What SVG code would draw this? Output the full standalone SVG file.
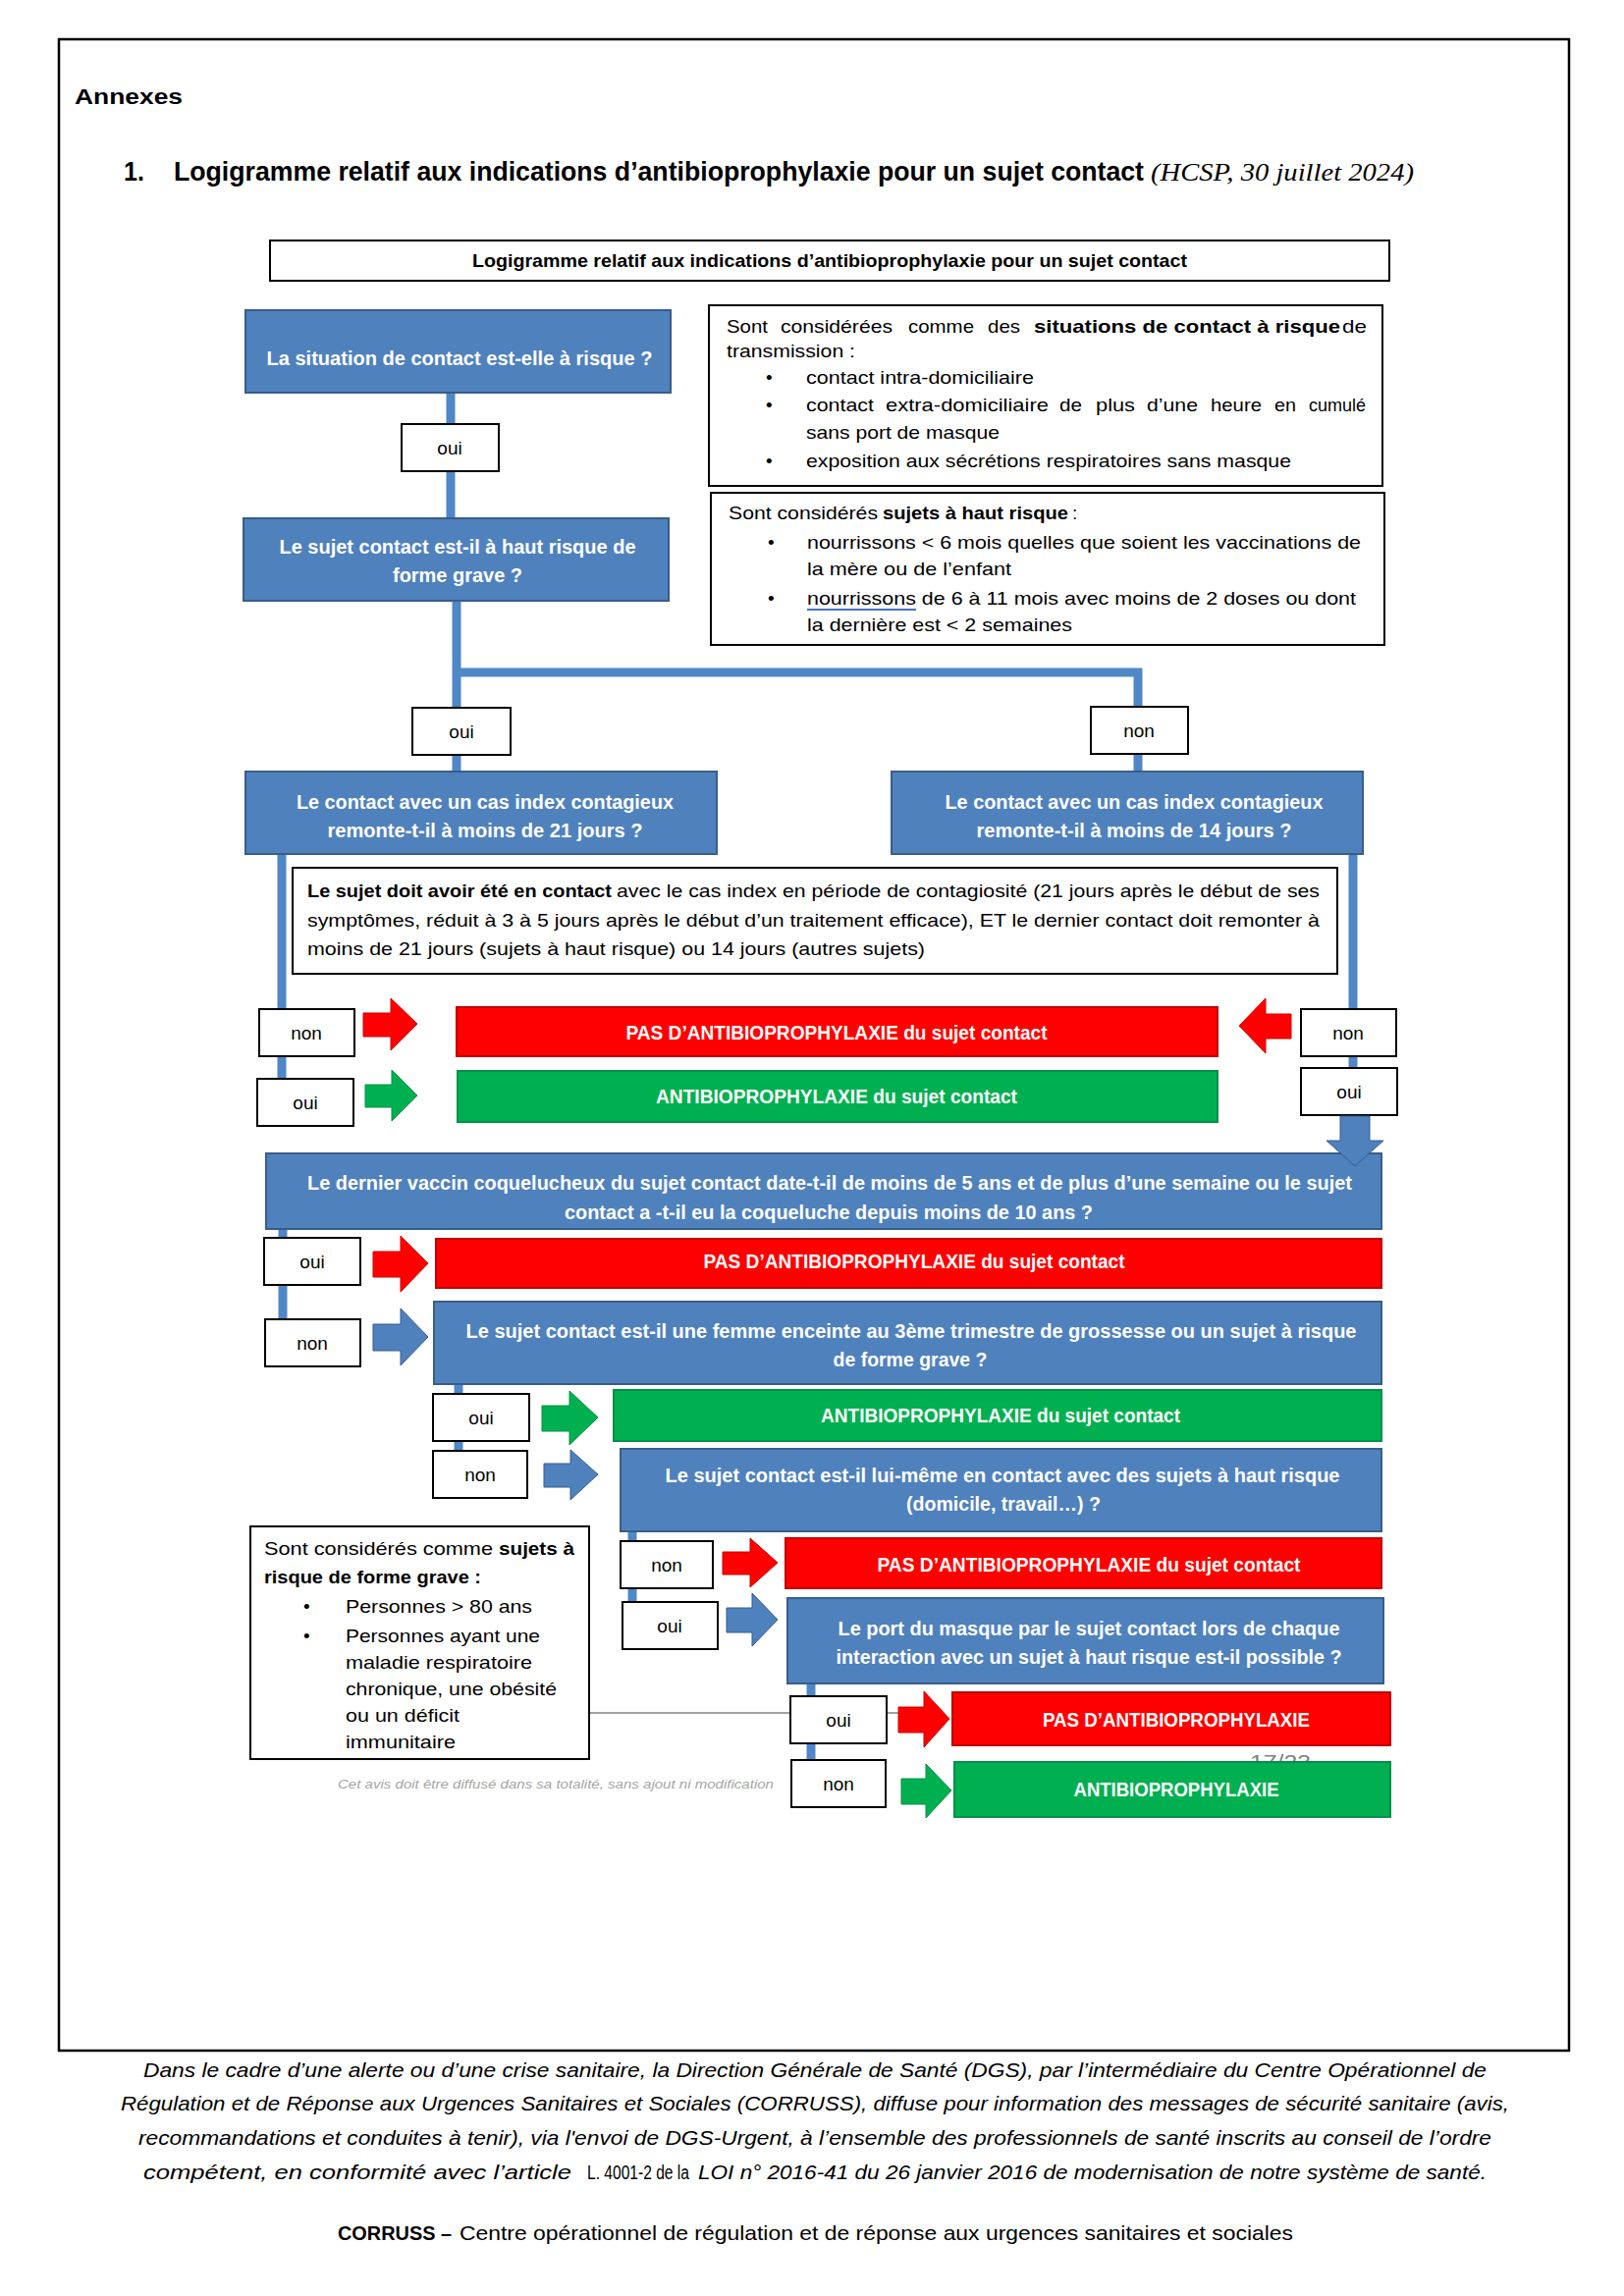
<svg xmlns="http://www.w3.org/2000/svg" width="1654" height="2339" viewBox="0 0 1654 2339">
<style>
text{font-family:"Liberation Sans",Arial,sans-serif;fill:#000}
.b{font-weight:bold}
.bq{fill:#4F81BD;stroke:#385D8A;stroke-width:2}
.bt{fill:#fff;font-weight:bold;font-size:20px;text-anchor:middle}
.lb{fill:#fff;stroke:#000;stroke-width:2}
.lt{font-size:19px;text-anchor:middle}
.info{fill:#fff;stroke:#000;stroke-width:2}
.it{font-size:19px}
.red{fill:#FF0000;stroke:#C00000;stroke-width:2}
.grn{fill:#00B050;stroke:#00904A;stroke-width:2}
.ar{fill:#FF0000;stroke:#D00000;stroke-width:1}
.ag{fill:#00B050;stroke:#009044;stroke-width:1}
.ab{fill:#4F81BD;stroke:#385D8A;stroke-width:1}
.con{stroke:#4F87C7;stroke-width:9;fill:none}
.ft{font-size:21px;font-style:italic}
</style>

<rect x="60" y="40" width="1538" height="2049" fill="none" stroke="#000" stroke-width="2.5"/>

<g id="header">
<text class="b" x="76" y="106" font-size="22" textLength="110" lengthAdjust="spacingAndGlyphs">Annexes</text>
<text class="b" x="126" y="184" font-size="27" textLength="21" lengthAdjust="spacingAndGlyphs">1.</text>
<text class="b" x="177" y="184" font-size="27" textLength="988" lengthAdjust="spacingAndGlyphs">Logigramme relatif aux indications d’antibioprophylaxie pour un sujet contact</text>
<text x="1172" y="184" font-size="26" font-style="italic" style="font-family:'Liberation Serif',serif" textLength="268" lengthAdjust="spacingAndGlyphs">(HCSP, 30 juillet 2024)</text>
</g>

<g id="title-box">
<rect x="275" y="245" width="1140" height="41" fill="#fff" stroke="#000" stroke-width="2"/>
<text class="b" x="845" y="272" font-size="19" text-anchor="middle" textLength="728" lengthAdjust="spacingAndGlyphs">Logigramme relatif aux indications d’antibioprophylaxie pour un sujet contact</text>
</g>

<g id="connectors">
<line class="con" x1="459" y1="401" x2="459" y2="528"/>
<line class="con" x1="465" y1="612" x2="465" y2="786"/>
<line class="con" x1="461" y1="685" x2="1163" y2="685"/>
<line class="con" x1="1159" y1="681" x2="1159" y2="786"/>
<line class="con" x1="287" y1="870" x2="287" y2="1099"/>
<line class="con" x1="1378" y1="870" x2="1378" y2="1088"/>
<line class="con" x1="288" y1="1253" x2="288" y2="1344"/>
<line class="con" x1="467" y1="1410" x2="467" y2="1478"/>
<line class="con" x1="644" y1="1560" x2="644" y2="1632"/>
<line class="con" x1="826" y1="1715" x2="826" y2="1793"/>
<line x1="600" y1="1745" x2="915" y2="1745" stroke="#808080" stroke-width="1.5"/>
</g>

<g id="q1">
<rect class="bq" x="250" y="316" width="433" height="84"/>
<text class="bt" x="468" y="372" textLength="393" lengthAdjust="spacingAndGlyphs">La situation de contact est-elle à risque ?</text>
</g>

<g id="infoA">
<rect class="info" x="722" y="311" width="686" height="184"/>
<text class="it" x="740" y="339" textLength="42" lengthAdjust="spacingAndGlyphs">Sont</text>
<text class="it" x="795" y="339" textLength="114" lengthAdjust="spacingAndGlyphs">considérées</text>
<text class="it" x="925" y="339" textLength="67" lengthAdjust="spacingAndGlyphs">comme</text>
<text class="it" x="1006" y="339" textLength="33" lengthAdjust="spacingAndGlyphs">des</text>
<text class="it b" x="1053" y="339" textLength="312" lengthAdjust="spacingAndGlyphs">situations de contact à risque</text>
<text class="it" x="1367" y="339" textLength="25" lengthAdjust="spacingAndGlyphs">de</text>
<text class="it" x="740" y="364" textLength="131" lengthAdjust="spacingAndGlyphs">transmission :</text>
<text class="it" x="780" y="391">•</text>
<text class="it" x="821" y="391" textLength="232" lengthAdjust="spacingAndGlyphs">contact intra-domiciliaire</text>
<text class="it" x="780" y="419">•</text>
<text class="it" x="821" y="419" textLength="69" lengthAdjust="spacingAndGlyphs">contact</text>
<text class="it" x="902" y="419" textLength="166" lengthAdjust="spacingAndGlyphs">extra-domiciliaire</text>
<text class="it" x="1079" y="419" textLength="23" lengthAdjust="spacingAndGlyphs">de</text>
<text class="it" x="1116" y="419" textLength="40" lengthAdjust="spacingAndGlyphs">plus</text>
<text class="it" x="1168" y="419" textLength="52" lengthAdjust="spacingAndGlyphs">d’une</text>
<text class="it" x="1233" y="419" textLength="52" lengthAdjust="spacingAndGlyphs">heure</text>
<text class="it" x="1298" y="419" textLength="22" lengthAdjust="spacingAndGlyphs">en</text>
<text class="it" x="1333" y="419" textLength="58" lengthAdjust="spacingAndGlyphs">cumulé</text>
<text class="it" x="821" y="447" textLength="197" lengthAdjust="spacingAndGlyphs">sans port de masque</text>
<text class="it" x="780" y="476">•</text>
<text class="it" x="821" y="476" textLength="494" lengthAdjust="spacingAndGlyphs">exposition aux sécrétions respiratoires sans masque</text>
</g>

<g id="oui1">
<rect class="lb" x="409" y="432" width="99" height="48"/>
<text class="lt" x="458" y="463">oui</text>
</g>

<g id="q2">
<rect class="bq" x="248" y="528" width="433" height="84"/>
<text class="bt" x="466" y="564" textLength="363" lengthAdjust="spacingAndGlyphs">Le sujet contact est-il à haut risque de</text>
<text class="bt" x="466" y="593" textLength="132" lengthAdjust="spacingAndGlyphs">forme grave ?</text>
</g>

<g id="infoB">
<rect class="info" x="724" y="502" width="686" height="155"/>
<text class="it" x="742" y="529" textLength="152" lengthAdjust="spacingAndGlyphs">Sont considérés</text>
<text class="it b" x="899" y="529" textLength="189" lengthAdjust="spacingAndGlyphs">sujets à haut risque</text>
<text class="it" x="1092" y="529">:</text>
<text class="it" x="782" y="559">•</text>
<text class="it" x="822" y="559" textLength="564" lengthAdjust="spacingAndGlyphs">nourrissons &lt; 6 mois quelles que soient les vaccinations de</text>
<text class="it" x="822" y="586" textLength="208" lengthAdjust="spacingAndGlyphs">la mère ou de l’enfant</text>
<text class="it" x="782" y="616">•</text>
<text class="it" x="822" y="616" textLength="559" lengthAdjust="spacingAndGlyphs">nourrissons de 6 à 11 mois avec moins de 2 doses ou dont</text>
<line x1="822" y1="621" x2="933" y2="621" stroke="#4472C4" stroke-width="2"/>
<text class="it" x="822" y="643" textLength="270" lengthAdjust="spacingAndGlyphs">la dernière est &lt; 2 semaines</text>
</g>

<g id="oui2">
<rect class="lb" x="420" y="721" width="100" height="48"/>
<text class="lt" x="470" y="752">oui</text>
</g>
<g id="non2">
<rect class="lb" x="1111" y="720" width="99" height="48"/>
<text class="lt" x="1160" y="751">non</text>
</g>

<g id="q3">
<rect class="bq" x="250" y="786" width="480" height="84"/>
<text class="bt" x="494" y="824" textLength="384" lengthAdjust="spacingAndGlyphs">Le contact avec un cas index contagieux</text>
<text class="bt" x="494" y="853" textLength="321" lengthAdjust="spacingAndGlyphs">remonte-t-il à moins de 21 jours ?</text>
</g>
<g id="q4">
<rect class="bq" x="908" y="786" width="480" height="84"/>
<text class="bt" x="1155" y="824" textLength="385" lengthAdjust="spacingAndGlyphs">Le contact avec un cas index contagieux</text>
<text class="bt" x="1155" y="853" textLength="321" lengthAdjust="spacingAndGlyphs">remonte-t-il à moins de 14 jours ?</text>
</g>

<g id="infoC">
<rect class="info" x="298" y="884" width="1064" height="108"/>
<text class="it b" x="313" y="914" textLength="310" lengthAdjust="spacingAndGlyphs">Le sujet doit avoir été en contact</text>
<text class="it" x="628" y="914" textLength="716" lengthAdjust="spacingAndGlyphs">avec le cas index en période de contagiosité (21 jours après le début de ses</text>
<text class="it" x="313" y="944" textLength="1031" lengthAdjust="spacingAndGlyphs">symptômes, réduit à 3 à 5 jours après le début d’un traitement efficace), ET le dernier contact doit remonter à</text>
<text class="it" x="313" y="973" textLength="629" lengthAdjust="spacingAndGlyphs">moins de 21 jours (sujets à haut risque) ou 14 jours (autres sujets)</text>
</g>

<g id="non3">
<rect class="lb" x="264" y="1028" width="97" height="48"/>
<text class="lt" x="312" y="1059">non</text>
</g>
<g id="oui3">
<rect class="lb" x="262" y="1099" width="98" height="48"/>
<text class="lt" x="311" y="1130">oui</text>
</g>
<g id="non4">
<rect class="lb" x="1325" y="1028" width="97" height="48"/>
<text class="lt" x="1373" y="1059">non</text>
</g>
<g id="oui4">
<rect class="lb" x="1325" y="1088" width="98" height="48"/>
<text class="lt" x="1374" y="1119">oui</text>
</g>

<g id="arrows1">
<path class="ar" d="M370,1032 H398 V1017 L425,1043 L398,1070 V1056 H370 Z"/>
<path class="ag" d="M372,1105 H399 V1090 L425,1116 L399,1142 V1128 H372 Z"/>
<path class="ar" d="M1315,1033 H1289 V1017 L1262,1045 L1289,1073 V1058 H1315 Z"/>
</g>

<g id="r1">
<rect class="red" x="465" y="1026" width="775" height="50"/>
<text class="bt" x="852" y="1059" textLength="429" lengthAdjust="spacingAndGlyphs">PAS D’ANTIBIOPROPHYLAXIE du sujet contact</text>
</g>
<g id="g1">
<rect class="grn" x="466" y="1091" width="774" height="52"/>
<text class="bt" x="852" y="1124" textLength="368" lengthAdjust="spacingAndGlyphs">ANTIBIOPROPHYLAXIE du sujet contact</text>
</g>

<g id="q5">
<rect class="bq" x="271" y="1175" width="1136" height="77"/>
<text class="bt" x="845" y="1212" textLength="1064" lengthAdjust="spacingAndGlyphs">Le dernier vaccin coquelucheux du sujet contact date-t-il de moins de 5 ans et de plus d’une semaine ou le sujet</text>
<text class="bt" x="844" y="1242" textLength="538" lengthAdjust="spacingAndGlyphs">contact a -t-il eu la coqueluche depuis moins de 10 ans ?</text>
</g>
<path class="ab" d="M1365,1137 H1395 V1162 H1409 L1380,1188 L1351,1162 H1365 Z"/>

<g id="oui5">
<rect class="lb" x="269" y="1261" width="98" height="48"/>
<text class="lt" x="318" y="1292">oui</text>
</g>
<path class="ar" d="M380,1275 H408 V1259 L436,1287 L408,1316 V1301 H380 Z"/>
<g id="r5">
<rect class="red" x="444" y="1262" width="963" height="50"/>
<text class="bt" x="931" y="1292" textLength="429" lengthAdjust="spacingAndGlyphs">PAS D’ANTIBIOPROPHYLAXIE du sujet contact</text>
</g>

<g id="non5">
<rect class="lb" x="270" y="1344" width="97" height="48"/>
<text class="lt" x="318" y="1375">non</text>
</g>
<path class="ab" d="M380,1349 H408 V1333 L436,1362 L408,1391 V1376 H380 Z"/>
<g id="q6">
<rect class="bq" x="442" y="1326" width="965" height="84"/>
<text class="bt" x="928" y="1363" textLength="907" lengthAdjust="spacingAndGlyphs">Le sujet contact est-il une femme enceinte au 3ème trimestre de grossesse ou un sujet à risque</text>
<text class="bt" x="927" y="1392" textLength="157" lengthAdjust="spacingAndGlyphs">de forme grave ?</text>
</g>

<g id="oui6">
<rect class="lb" x="441" y="1420" width="98" height="48"/>
<text class="lt" x="490" y="1451">oui</text>
</g>
<path class="ag" d="M552,1432 H580 V1417 L609,1444 L580,1472 V1458 H552 Z"/>
<g id="g6">
<rect class="grn" x="625" y="1416" width="782" height="52"/>
<text class="bt" x="1019" y="1449" textLength="366" lengthAdjust="spacingAndGlyphs">ANTIBIOPROPHYLAXIE du sujet contact</text>
</g>

<g id="non6">
<rect class="lb" x="441" y="1478" width="96" height="48"/>
<text class="lt" x="489" y="1509">non</text>
</g>
<path class="ab" d="M554,1491 H581 V1477 L609,1502 L581,1528 V1515 H554 Z"/>
<g id="q7">
<rect class="bq" x="632" y="1476" width="775" height="84"/>
<text class="bt" x="1021" y="1510" textLength="687" lengthAdjust="spacingAndGlyphs">Le sujet contact est-il lui-même en contact avec des sujets à haut risque</text>
<text class="bt" x="1022" y="1539" textLength="198" lengthAdjust="spacingAndGlyphs">(domicile, travail…) ?</text>
</g>

<g id="infoD">
<rect class="info" x="255" y="1555" width="345" height="237"/>
<text class="it" x="269" y="1584" textLength="233" lengthAdjust="spacingAndGlyphs">Sont considérés comme</text>
<text class="it b" x="508" y="1584" textLength="77" lengthAdjust="spacingAndGlyphs">sujets à</text>
<text class="it b" x="269" y="1613" textLength="221" lengthAdjust="spacingAndGlyphs">risque de forme grave :</text>
<text class="it" x="309" y="1643">•</text>
<text class="it" x="352" y="1643" textLength="190" lengthAdjust="spacingAndGlyphs">Personnes &gt; 80 ans</text>
<text class="it" x="309" y="1673">•</text>
<text class="it" x="352" y="1673" textLength="198" lengthAdjust="spacingAndGlyphs">Personnes ayant une</text>
<text class="it" x="352" y="1700" textLength="190" lengthAdjust="spacingAndGlyphs">maladie respiratoire</text>
<text class="it" x="352" y="1727" textLength="215" lengthAdjust="spacingAndGlyphs">chronique, une obésité</text>
<text class="it" x="352" y="1754" textLength="116" lengthAdjust="spacingAndGlyphs">ou un déficit</text>
<text class="it" x="352" y="1781" textLength="112" lengthAdjust="spacingAndGlyphs">immunitaire</text>
</g>

<g id="non7">
<rect class="lb" x="632" y="1570" width="94" height="48"/>
<text class="lt" x="679" y="1601">non</text>
</g>
<path class="ar" d="M736,1581 H764 V1567 L792,1592 L764,1617 V1604 H736 Z"/>
<g id="r7">
<rect class="red" x="800" y="1567" width="607" height="51"/>
<text class="bt" x="1109" y="1601" textLength="431" lengthAdjust="spacingAndGlyphs">PAS D’ANTIBIOPROPHYLAXIE du sujet contact</text>
</g>

<g id="oui7">
<rect class="lb" x="634" y="1632" width="97" height="48"/>
<text class="lt" x="682" y="1663">oui</text>
</g>
<path class="ab" d="M740,1638 H766 V1623 L792,1650 L766,1677 V1663 H740 Z"/>
<g id="q8">
<rect class="bq" x="802" y="1628" width="607" height="87"/>
<text class="bt" x="1109" y="1666" textLength="511" lengthAdjust="spacingAndGlyphs">Le port du masque par le sujet contact lors de chaque</text>
<text class="bt" x="1109" y="1695" textLength="515" lengthAdjust="spacingAndGlyphs">interaction avec un sujet à haut risque est-il possible ?</text>
</g>

<g id="oui8">
<rect class="lb" x="805" y="1728" width="98" height="48"/>
<text class="lt" x="854" y="1759">oui</text>
</g>
<path class="ar" d="M915,1739 H941 V1723 L967,1751 L941,1780 V1765 H915 Z"/>
<g id="r8">
<rect class="red" x="970" y="1724" width="446" height="54"/>
<text class="bt" x="1198" y="1759" textLength="272" lengthAdjust="spacingAndGlyphs">PAS D’ANTIBIOPROPHYLAXIE</text>
</g>

<text x="1273" y="1802" font-size="20" style="fill:#808080" textLength="62" lengthAdjust="spacingAndGlyphs">17/23</text>

<g id="non8">
<rect class="lb" x="806" y="1793" width="96" height="48"/>
<text class="lt" x="854" y="1824">non</text>
</g>
<path class="ag" d="M918,1812 H943 V1797 L969,1824 L943,1852 V1838 H918 Z"/>
<g id="g8">
<rect class="grn" x="972" y="1795" width="444" height="56"/>
<text class="bt" x="1198" y="1830" textLength="209" lengthAdjust="spacingAndGlyphs">ANTIBIOPROPHYLAXIE</text>
</g>

<text x="344" y="1822" font-size="12" font-style="italic" style="fill:#a6a6a6" textLength="444" lengthAdjust="spacingAndGlyphs">Cet avis doit être diffusé dans sa totalité, sans ajout ni modification</text>

<g id="footer">
<text class="ft" x="146" y="2116" textLength="1368" lengthAdjust="spacingAndGlyphs">Dans le cadre d’une alerte ou d’une crise sanitaire, la Direction Générale de Santé (DGS), par l’intermédiaire du Centre Opérationnel de</text>
<text class="ft" x="123" y="2150" textLength="1414" lengthAdjust="spacingAndGlyphs">Régulation et de Réponse aux Urgences Sanitaires et Sociales (CORRUSS), diffuse pour information des messages de sécurité sanitaire (avis,</text>
<text class="ft" x="141" y="2185" textLength="1378" lengthAdjust="spacingAndGlyphs">recommandations et conduites à tenir), via l'envoi de DGS-Urgent, à l’ensemble des professionnels de santé inscrits au conseil de l’ordre</text>
<text class="ft" x="146" y="2220" textLength="436" lengthAdjust="spacingAndGlyphs">compétent, en conformité avec l’article</text>
<text x="598" y="2220" font-size="20" textLength="104" lengthAdjust="spacingAndGlyphs">L. 4001-2 de la</text>
<text class="ft" x="711" y="2220" textLength="803" lengthAdjust="spacingAndGlyphs">LOI n° 2016-41 du 26 janvier 2016 de modernisation de notre système de santé.</text>
<text class="b" x="344" y="2282" font-size="21" textLength="116" lengthAdjust="spacingAndGlyphs">CORRUSS –</text>
<text x="468" y="2282" font-size="21" textLength="849" lengthAdjust="spacingAndGlyphs">Centre opérationnel de régulation et de réponse aux urgences sanitaires et sociales</text>
</g>
</svg>
